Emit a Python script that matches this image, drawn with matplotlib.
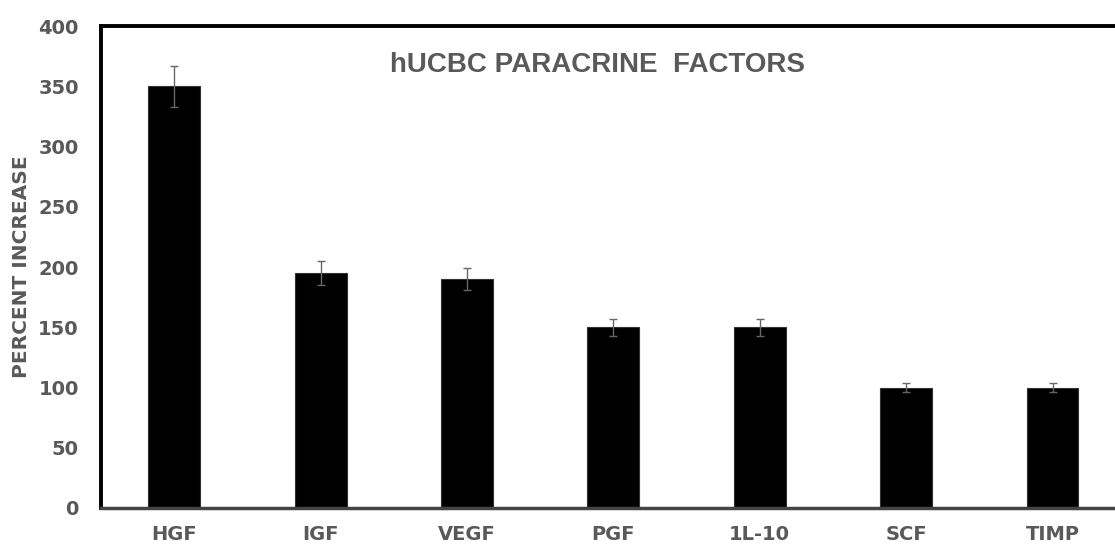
import matplotlib.pyplot as plt

categories = ['HGF', 'IGF', 'VEGF', 'PGF', '1L-10', 'SCF', 'TIMP']
values = [350, 195, 190, 150, 150, 100, 100]
errors = [17, 10, 9, 7, 7, 4, 4]
yticks = [0, 50, 100, 150, 200, 250, 300, 350, 400]

plt.rcParams['font.family'] = ['DejaVu Sans']
grey = '#595959'

fig = plt.figure(figsize=(11.15, 5.47), dpi=100)
ax = fig.add_axes([0.0906, 0.0713, 0.919, 0.881])

x = range(len(categories))
ax.bar(x, values, width=0.355, color='black', edgecolor='#333333', linewidth=0.8,
       zorder=2)
ax.errorbar(x, values, yerr=errors, fmt='none', ecolor='#666666', elinewidth=1,
            capsize=3, capthick=1, zorder=3)

ax.set_xlim(-0.5, 6.5)
ax.set_ylim(0, 400)
ax.set_yticks(yticks)
ax.set_xticks(list(x))
ax.set_xticklabels(categories)
ax.tick_params(axis='both', length=0, labelsize=14, labelcolor=grey)
ax.tick_params(axis='y', pad=16)
ax.tick_params(axis='x', pad=12)
for lab in ax.get_xticklabels() + ax.get_yticklabels():
    lab.set_fontweight('bold')

ax.set_ylabel('PERCENT INCREASE', fontsize=14.5, fontweight='bold', color=grey,
              va='center')
ax.yaxis.set_label_coords(-0.0776, 0.5)

for side in ['top', 'left']:
    ax.spines[side].set_linewidth(2.8)
    ax.spines[side].set_color('black')
ax.spines['bottom'].set_linewidth(2.5)
ax.spines['bottom'].set_color('#444444')
ax.spines['right'].set_visible(False)

ax.text(0.485, 0.92, 'hUCBC PARACRINE  FACTORS',
        transform=ax.transAxes, ha='center', va='center', fontsize=20,
        fontweight='bold', color=grey, family='Liberation Sans')

fig.savefig('out.png', dpi=100)
